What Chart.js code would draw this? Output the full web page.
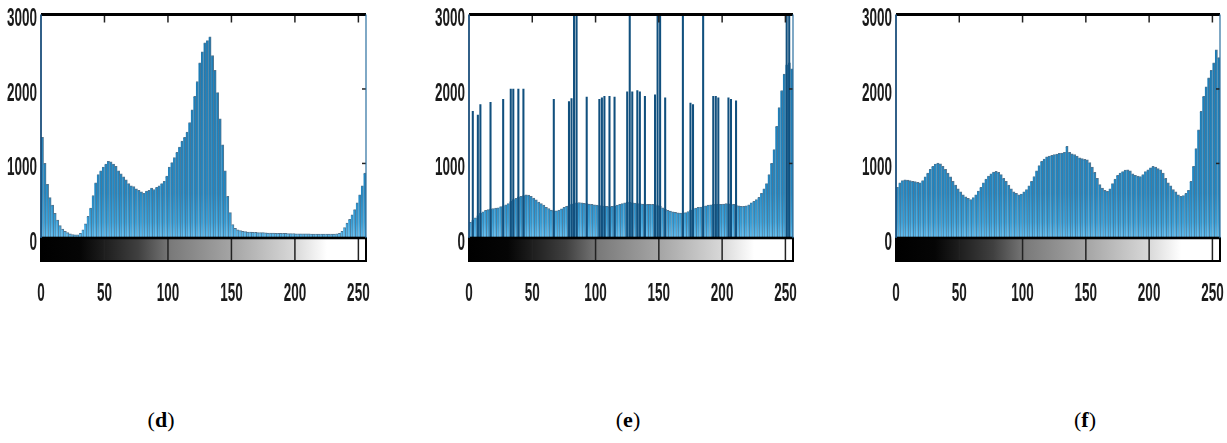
<!DOCTYPE html>
<html lang="en">
<head>
  <meta charset="UTF-8" />
  <title>Histogramas (d) (e) (f)</title>
  <script src="https://cdn.jsdelivr.net/npm/chart.js"></script>
  <style>
    body { margin: 0; background: #fff; width: 1227px; height: 443px; position: relative; overflow: hidden; }
    canvas { position: absolute; top: 0; }
    .cap { position: absolute; top: 407px; font-family: 'Liberation Serif', 'Times New Roman', serif; font-size: 22px; color: #000; transform: translateX(-50%); }
  </style>
</head>
<body>
  <canvas id="histD" width="380" height="330" style="left:0px"></canvas>
  <canvas id="histE" width="390" height="330" style="left:420px"></canvas>
  <canvas id="histF" width="387" height="330" style="left:840px"></canvas>
  <div class="cap" style="left:161px">(<b>d</b>)</div>
  <div class="cap" style="left:628px">(<b>e</b>)</div>
  <div class="cap" style="left:1085px">(<b>f</b>)</div>

  <script>
    // gray levels, grouped in bins of 2 (bin centres)
    const bins = [];
    for (let i = 0; i < 128; i++) bins.push(2 * i + 1);

    const xTicks = [0, 50, 100, 150, 200, 250];
    const yTicks = [0, 1000, 2000, 3000];
    const yMin = -310;   // bottom of the grey colour bar
    const yMax = 3000;

    const countsD = [
      1350, 1000, 720, 540, 440, 330, 240, 165, 120, 90, 70, 55, 45, 40, 42, 60,
      110, 190, 290, 400, 570, 740, 850, 900, 950, 990, 1030, 1020, 990, 960, 900, 860,
      820, 780, 730, 700, 690, 660, 640, 620, 600, 630, 640, 670, 650, 680, 700, 730,
      760, 830, 950, 1010, 1080, 1150, 1220, 1300, 1350, 1420, 1550, 1720, 1900, 2100, 2350, 2500,
      2620, 2650, 2700, 2450, 2250, 1950, 1600, 1250, 900, 560, 340, 180, 130, 110, 100, 90,
      85, 80, 78, 75, 74, 72, 70, 70, 68, 66, 65, 64, 63, 62, 62, 60,
      60, 58, 58, 57, 56, 56, 55, 55, 54, 54, 53, 53, 52, 52, 52, 51,
      51, 50, 50, 52, 55, 62, 90, 140, 200, 250, 310, 380, 470, 580, 700, 870
    ];

    const countsE = [
      210, 240, 270, 300, 330, 350, 370, 380, 390, 395, 400, 405, 420, 430, 445, 460,
      490, 515, 530, 550, 560, 570, 580, 575, 560, 535, 510, 480, 460, 440, 410, 395,
      375, 360, 365, 375, 390, 410, 425, 440, 455, 470, 470, 475, 470, 465, 460, 455,
      450, 445, 440, 435, 430, 425, 425, 420, 425, 430, 440, 450, 460, 470, 480, 478,
      472, 468, 462, 460, 455, 452, 450, 450, 452, 448, 435, 425, 405, 385, 370, 360,
      350, 342, 338, 335, 335, 340, 355, 375, 390, 400, 410, 415, 425, 432, 440, 445,
      450, 450, 450, 452, 455, 460, 458, 455, 450, 440, 430, 425, 425, 430, 445, 470,
      490, 515, 545, 600, 660, 730, 850, 1000, 1185, 1500, 1750, 1980, 2200, 2325, 2350, 2270
    ];

    // isolated peaks of histogram (e)
    const spikeLevelsE = [3, 7, 9, 17, 27, 33, 35, 39, 43, 67, 79, 81, 83, 85, 93, 103, 105, 107, 111, 115,
                          125, 127, 129, 133, 135, 139, 147, 149, 151, 155, 169, 175, 177, 185, 193, 195, 197,
                          205, 207, 211, 251, 253];
    const spikeCountsE = [1700, 1650, 1790, 1820, 1860, 2000, 2000, 2000, 2000, 1860, 1830, 1870, 3000, 3000, 1890,
                          1860, 1880, 1900, 1900, 1890, 1960, 3000, 1960, 1980, 1960, 1900, 1920, 3000, 3000, 1880,
                          3000, 1810, 1790, 3000, 1900, 1900, 1880, 1880, 1860, 1840, 3000, 3000];

    const countsF = [
      680, 740, 770, 780, 775, 770, 760, 755, 745, 740, 770, 820, 870, 920, 960, 990,
      1005, 995, 960, 920, 870, 820, 760, 710, 660, 620, 580, 550, 530, 515, 540, 580,
      630, 680, 740, 790, 830, 860, 885, 895, 880, 850, 800, 760, 710, 660, 620, 600,
      580, 590, 620, 650, 700, 760, 825, 900, 970, 1030, 1060, 1090, 1100, 1110, 1120, 1125,
      1135, 1140, 1150, 1230, 1150, 1130, 1120, 1100, 1075, 1065, 1055, 1050, 1010, 950, 880, 800,
      715, 670, 640, 625, 660, 730, 790, 840, 870, 890, 910, 915, 900, 860, 840, 830,
      825, 850, 890, 915, 940, 960, 950, 930, 915, 870, 800, 740, 700, 650, 620, 580,
      560, 570, 600, 640, 760, 960, 1200, 1450, 1700, 1900, 2030, 2150, 2250, 2350, 2525, 2420
    ];

    // tall, narrow tick numbers like the scanned figure
    function condensedText(ctx, text, px, py, align) {
      ctx.save();
      ctx.translate(px, py);
      ctx.scale(0.54, 1);
      ctx.font = "bold 25px 'Liberation Sans', Arial, sans-serif";
      ctx.fillStyle = '#1a1a1a';
      ctx.textAlign = align;
      ctx.textBaseline = 'middle';
      ctx.fillText(text, 0, 0);
      ctx.restore();
    }

    // box, top ticks, tick numbers and the grey colour bar under the histogram
    const framePlugin = {
      id: 'frame',
      afterDatasetsDraw(chart) {
        const { ctx, chartArea: a, scales: { x, y } } = chart;
        const y0 = y.getPixelForValue(0);
        const yb = y.getPixelForValue(yMin);
        const x0 = x.getPixelForValue(0);
        const x1 = x.getPixelForValue(256);
        ctx.save();

        const g = ctx.createLinearGradient(x0, 0, x1, 0);
        g.addColorStop(0, '#000');
        g.addColorStop(0.12, '#050505');
        g.addColorStop(0.3, '#404040');
        g.addColorStop(0.4, '#7a7a7a');
        g.addColorStop(0.6, '#a8a8a8');
        g.addColorStop(0.78, '#d8d8d8');
        g.addColorStop(0.88, '#fff');
        g.addColorStop(1, '#fff');
        ctx.fillStyle = g;
        ctx.fillRect(x0, y0, x1 - x0, yb - y0);

        ctx.strokeStyle = '#222';
        ctx.lineWidth = 1.5;
        x.ticks.forEach(t => {
          if (t.value === 0) return;
          const px = x.getPixelForValue(t.value);
          ctx.beginPath(); ctx.moveTo(px, y0); ctx.lineTo(px, yb); ctx.stroke();
          ctx.beginPath(); ctx.moveTo(px, a.top); ctx.lineTo(px, a.top + 8); ctx.stroke();
        });
        y.ticks.forEach(t => {
          if (t.value === 0 || t.value === yMax) return;
          const py = y.getPixelForValue(t.value);
          ctx.beginPath(); ctx.moveTo(x1, py); ctx.lineTo(x1 - 4, py); ctx.stroke();
        });

        // colour bar outline
        ctx.strokeStyle = '#000';
        ctx.lineWidth = 2;
        ctx.strokeRect(x0, y0, x1 - x0, yb - y0);
        ctx.lineWidth = 2.5;
        ctx.beginPath(); ctx.moveTo(x0, y0); ctx.lineTo(x1, y0); ctx.stroke();

        // histogram box
        ctx.lineWidth = 3;
        ctx.beginPath(); ctx.moveTo(x0, a.top); ctx.lineTo(x1, a.top); ctx.stroke();
        ctx.strokeStyle = '#1b4f7c';
        ctx.lineWidth = 1.8;
        ctx.beginPath(); ctx.moveTo(x0, a.top); ctx.lineTo(x0, y0); ctx.stroke();
        ctx.strokeStyle = '#2a6f9f';
        ctx.lineWidth = 1.2;
        ctx.beginPath(); ctx.moveTo(x1, a.top); ctx.lineTo(x1, y0); ctx.stroke();
        ctx.restore();

        // tick numbers
        x.ticks.forEach(t => condensedText(ctx, String(t.value), x.getPixelForValue(t.value), 294, 'center'));
        y.ticks.forEach(t => condensedText(ctx, String(t.value), x0 - 4, y.getPixelForValue(t.value) + 5, 'right'));
      }
    };

    function barFill(c) {
      const { ctx, chartArea, scales } = c.chart;
      if (!chartArea) return '#2386c0';
      const y0 = scales.y.getPixelForValue(0);
      const g = ctx.createLinearGradient(0, chartArea.top, 0, y0);
      g.addColorStop(0, '#1a76ae');
      g.addColorStop(0.8, '#2287c2');
      g.addColorStop(0.93, '#369fd8');
      g.addColorStop(1, '#5ebcf0');
      return g;
    }

    function makeHist(id, counts, plotLeft, padRight, spikeLevels, spikeCounts) {
      const datasets = [{
        data: bins.map((b, i) => ({ x: b, y: counts[i] })),
        grouped: false,
        barPercentage: 1,
        categoryPercentage: 1,
        backgroundColor: barFill,
        borderColor: 'rgba(10, 58, 96, 0.7)',
        borderWidth: { top: 1, right: 1, left: 0, bottom: 0 },
        order: 2
      }];
      if (spikeLevels) {
        datasets.push({
          data: spikeLevels.map((l, i) => ({ x: l, y: spikeCounts[i] })),
          grouped: false,
          barThickness: 1.4,
          backgroundColor: '#11507e',
          order: 1
        });
      }

      return new Chart(document.getElementById(id), {
        type: 'bar',
        data: { datasets: datasets },
        options: {
          responsive: false,
          animation: false,
          devicePixelRatio: 1,
          events: [],
          layout: { padding: { top: 14.5, right: padRight, left: 0, bottom: 0 } },
          plugins: { legend: { display: false }, tooltip: { enabled: false } },
          scales: {
            x: {
              type: 'linear',
              min: 0,
              max: 256,
              offset: false,
              grid: { display: false, drawTicks: false, tickLength: 0 },
              border: { display: false },
              afterBuildTicks: s => { s.ticks = xTicks.map(v => ({ value: v })); },
              afterFit: s => { s.paddingLeft = 0; s.paddingRight = 0; s.height = 69; },
              ticks: { display: false }
            },
            y: {
              min: yMin,
              max: yMax,
              grid: { display: false, drawTicks: false, tickLength: 0 },
              border: { display: false },
              afterBuildTicks: s => { s.ticks = yTicks.map(v => ({ value: v })); },
              afterFit: s => { s.width = plotLeft; s.paddingTop = 0; s.paddingBottom = 0; },
              ticks: { display: false }
            }
          }
        },
        plugins: [framePlugin]
      });
    }

    makeHist('histD', countsD, 41, 14);
    makeHist('histE', countsE, 49, 17, spikeLevelsE, spikeCountsE);
    makeHist('histF', countsF, 56, 7);
  </script>
</body>
</html>
